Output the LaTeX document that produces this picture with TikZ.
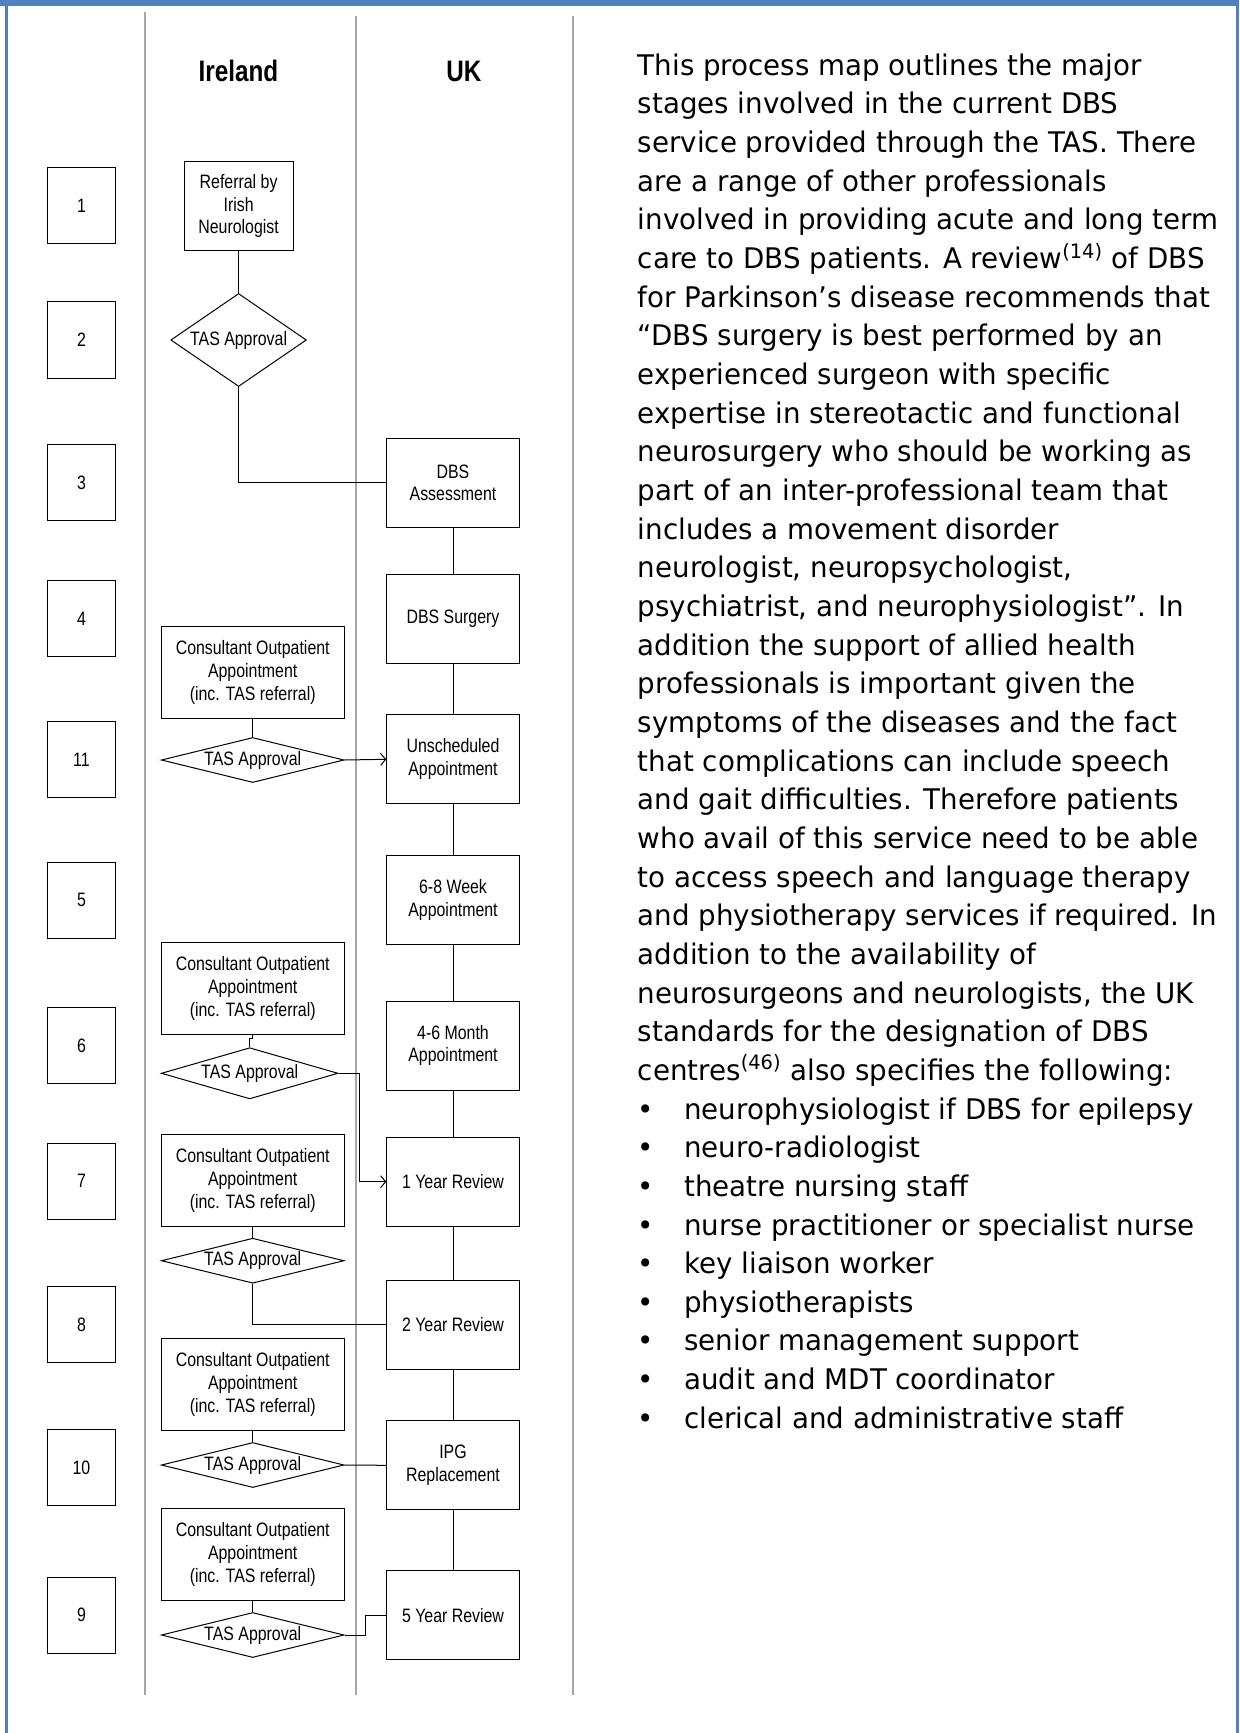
\documentclass[tikz,border=0pt]{standalone}
\usepackage{fontspec}
\setmainfont{Liberation Sans}
\newfontfamily\chartfont{Liberation Sans}[FakeStretch=0.82]
\newfontfamily\bodyfont{DejaVu Sans}[FakeStretch=0.975]
\usetikzlibrary{shapes.geometric,arrows.meta,positioning}
\definecolor{frameblue}{RGB}{79,129,189}
\definecolor{lanegray}{RGB}{166,166,166}
\newcommand{\blt}[1]{\makebox[23.25pt][l]{•}#1}
\tikzset{stepbox/.style={draw=black,fill=white,line width=0.5pt,inner sep=1pt,align=center,font=\chartfont\fontsize{9.7}{11.4}\selectfont}}
\tikzset{numbox/.style={stepbox,minimum width=34.4pt,minimum height=38pt}}
\tikzset{ukbox/.style={stepbox,minimum width=66.25pt,minimum height=44.5pt}}
\tikzset{consbox/.style={stepbox,minimum width=91.35pt,minimum height=46pt}}
\tikzset{decide/.style={stepbox,diamond,inner sep=0pt,shape aspect=4,minimum width=91.35pt,minimum height=22.5pt}}
\tikzset{lane/.style={draw=lanegray,line width=1pt}}
\tikzset{flow/.style={draw=black,line width=0.5pt}}
\tikzset{flowto/.style={flow,-{Straight Barb[length=2.5pt,width=6pt]}}}
\tikzset{bodytext/.style={anchor=base west,inner sep=0pt,align=left,font=\bodyfont\fontsize{14.2}{19.33}\selectfont}}
\begin{document}
\begin{tikzpicture}[x=0.5pt,y=-0.5pt]
\useasboundingbox (0,0) rectangle (1239,1733);
% frame
\fill[frameblue] (0,0) rectangle (1239,6.5);
\draw[frameblue,line width=1.3pt] (6.5,0) -- (6.5,1733) (1237.7,0) -- (1237.7,1733);
% swim lanes
\draw[lane] (144.7,12) -- (144.7,1695);
\draw[lane] (355.9,16) -- (355.9,1695);
\draw[lane] (573,16) -- (573,1695);
\node[font=\chartfont\bfseries\fontsize{14.8}{17}\selectfont] (ireland) at (238.4,71) {Ireland};
\node[font=\chartfont\bfseries\fontsize{14.8}{17}\selectfont] (uk) at (463.8,71) {UK};
% stage numbers
\node[numbox] (n1) at (81.5,206) {1};
\node[numbox] (n2) at (81.5,340) {2};
\node[numbox] (n3) at (81.5,482.8) {3};
\node[numbox] (n4) at (81.5,618.8) {4};
\node[numbox] (n11) at (81.5,759.7) {11};
\node[numbox] (n5) at (81.5,900.3) {5};
\node[numbox] (n6) at (81.5,1045.7) {6};
\node[numbox] (n7) at (81.5,1181.3) {7};
\node[numbox] (n8) at (81.5,1324.7) {8};
\node[numbox] (n10) at (81.5,1467.5) {10};
\node[numbox] (n9) at (81.5,1615.3) {9};
% Ireland lane
\node[stepbox,minimum width=54.4pt,minimum height=44.3pt] (referral) at (238.6,206) {Referral by\\Irish\\Neurologist};
\node[decide,shape aspect=1.46,minimum width=67.8pt,minimum height=46.5pt] (d1) at (238.6,340) {TAS Approval};
\node[consbox] (c11) at (252.7,672.5) {Consultant Outpatient\\Appointment\\(inc. TAS referral)};
\node[decide] (d11) at (252.7,760) {TAS Approval};
\node[consbox] (c6) at (252.7,988.5) {Consultant Outpatient\\Appointment\\(inc. TAS referral)};
\node[decide,shape aspect=3.45,minimum width=88.4pt,minimum height=25.6pt] (d6) at (249.7,1073.3) {TAS Approval};
\node[consbox] (c7) at (252.7,1180.2) {Consultant Outpatient\\Appointment\\(inc. TAS referral)};
\node[decide] (d7) at (252.7,1260.7) {TAS Approval};
\node[consbox] (c10) at (252.7,1384.2) {Consultant Outpatient\\Appointment\\(inc. TAS referral)};
\node[decide] (d10) at (252.7,1465) {TAS Approval};
\node[consbox] (c9) at (252.7,1554.3) {Consultant Outpatient\\Appointment\\(inc. TAS referral)};
\node[decide] (d9) at (252.7,1635) {TAS Approval};
% UK lane
\node[ukbox] (assess) at (453,482.8) {DBS\\Assessment};
\node[ukbox] (surgery) at (453,618.8) {DBS Surgery};
\node[ukbox] (unsched) at (453,759.3) {Unscheduled\\Appointment};
\node[ukbox] (week) at (453,900.2) {6-8 Week\\Appointment};
\node[ukbox] (month) at (453,1045.5) {4-6 Month\\Appointment};
\node[ukbox] (year1) at (453,1181.7) {1 Year Review};
\node[ukbox] (year2) at (453,1324.7) {2 Year Review};
\node[ukbox] (ipg) at (453,1465.3) {IPG\\Replacement};
\node[ukbox] (year5) at (453,1615.3) {5 Year Review};
% connectors
\draw[flow] (referral) -- (d1);
\draw[flow] (d1.south) |- (assess.west);
\draw[flow] (assess) -- (surgery) -- (unsched) -- (week) -- (month) -- (year1) -- (year2) -- (ipg) -- (year5);
\draw[flow] (c11) -- (d11);
\draw[flowto] (d11.east) -- (unsched.west);
\draw[flow] (c6.south) -- ++(0,3) -| (d6.north);
\draw[flowto] (d6.east) -- ++(21,0) |- (year1.west);
\draw[flow] (c7) -- (d7);
\draw[flow] (d7.south) |- (year2.west);
\draw[flow] (c10) -- (d10);
\draw[flow] (d10.east) -- (ipg.west);
\draw[flow] (c9) -- (d9);
\draw[flow] (d9.east) -- ++(21,0) |- (year5.west);
% text column
\node[bodytext] (para) at (637.5,1080.4) {This process map outlines the major\\
stages involved in the current DBS\\
service provided through the TAS. There\\
are a range of other professionals\\
involved in providing acute and long term\\
care to DBS patients. A review\textsuperscript{(14)} of DBS\\
for Parkinson’s disease recommends that\\
“DBS surgery is best performed by an\\
experienced surgeon with specific\\
expertise in stereotactic and functional\\
neurosurgery who should be working as\\
part of an inter-professional team that\\
includes a movement disorder\\
neurologist, neuropsychologist,\\
psychiatrist, and neurophysiologist”. In\\
addition the support of allied health\\
professionals is important given the\\
symptoms of the diseases and the fact\\
that complications can include speech\\
and gait difficulties. Therefore patients\\
who avail of this service need to be able\\
to access speech and language therapy\\
and physiotherapy services if required. In\\
addition to the availability of\\
neurosurgeons and neurologists, the UK\\
standards for the designation of DBS\\
centres\textsuperscript{(46)} also specifies the following:};
\node[bodytext] (list) at (637.5,1428.3) {\blt{neurophysiologist if DBS for epilepsy}\\
\blt{neuro-radiologist}\\
\blt{theatre nursing staff}\\
\blt{nurse practitioner or specialist nurse}\\
\blt{key liaison worker}\\
\blt{physiotherapists}\\
\blt{senior management support}\\
\blt{audit and MDT coordinator}\\
\blt{clerical and administrative staff}};
\end{tikzpicture}
\end{document}
